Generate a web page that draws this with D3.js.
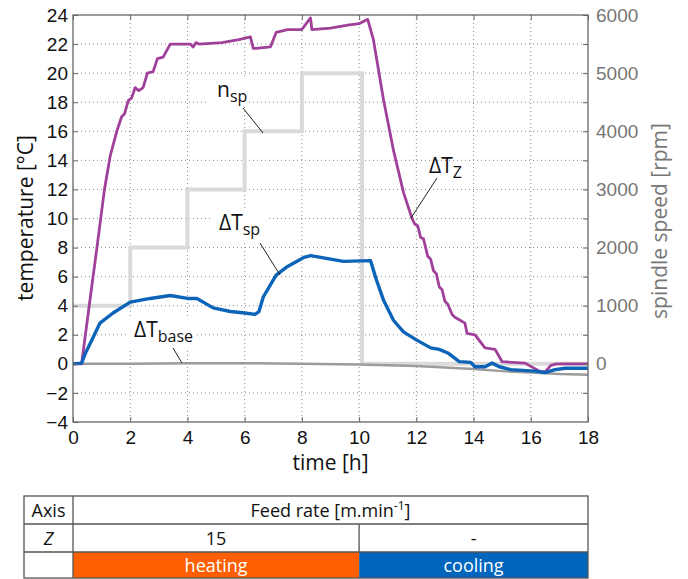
<!DOCTYPE html>
<html>
<head>
<meta charset="utf-8">
<script src="https://cdn.jsdelivr.net/npm/d3@7"></script>
<style>
    body { margin: 0; background: #fff; }
    svg { font-family: "Open Sans", sans-serif; }
</style>
</head>
<body>
<div id="graph-container"></div>
<script>
// ---- data ----
const tzTime = [0, 0.3, 0.6, 0.85, 1.1, 1.3, 1.53, 1.7, 1.8, 1.93, 2.05, 2.17, 2.3, 2.45, 2.6, 2.8, 2.95, 3.15, 3.4,
    4.1, 4.2, 4.3, 4.4, 5.2, 5.8, 6.2, 6.3, 6.4, 6.9, 7.1, 7.5, 8.0, 8.3, 8.35, 9.0, 9.6, 10.0, 10.3,
    10.5, 10.85, 11.2, 11.55, 11.85, 11.95, 12.05, 12.15, 12.25, 12.4, 12.5, 12.6, 12.7, 12.8, 12.9, 13.0, 13.1,
    13.25, 13.35, 13.53, 13.7, 13.77, 14.05, 14.4, 14.75,
    15.0, 15.8, 16.3, 16.5, 16.7, 16.9, 18];
const tzValue = [0, 0, 4.5, 8.2, 12, 14.3, 16, 17, 17.2, 18.1, 18.3, 19.0, 18.8, 19.0, 20.0, 20.1, 21.0, 21.1, 22.0,
    22.0, 21.8, 22.1, 22.0, 22.1, 22.3, 22.5, 21.7, 21.7, 21.8, 22.8, 23.0, 23.0, 23.8, 23.0, 23.1, 23.3, 23.4, 23.7,
    22.3, 18.2, 14.7, 11.8, 10.0, 9.6, 9.5, 8.7, 8.6, 7.4, 7.2, 6.4, 6.2, 5.3, 5.1, 4.3, 4.1,
    3.4, 3.2, 3.0, 2.8, 2.1, 2.0, 1.1, 1.0,
    0.15, 0.05, -0.5, -0.55, -0.1, 0, 0];

const tspTime = [0, 0.3, 0.45, 0.6, 0.94, 1.4, 2.0, 2.7, 3.4, 4.0, 4.33, 4.9, 5.5, 6.0, 6.36, 6.5, 6.65, 7.1, 7.5,
    8.05, 8.3, 9.0, 9.45, 10.4, 10.6, 10.85, 11.2, 11.55, 12.0, 12.5, 12.8, 13.1, 13.5, 13.9, 14.05, 14.4,
    14.65, 14.9, 15.3, 16.15, 16.5, 16.85, 17.2, 18];
const tspValue = [0, 0.05, 0.8, 1.4, 2.8, 3.5, 4.25, 4.5, 4.7, 4.5, 4.5, 3.85, 3.6, 3.5, 3.4, 3.6, 4.6, 6.1, 6.7,
    7.3, 7.45, 7.2, 7.05, 7.1, 5.8, 4.4, 3.0, 2.2, 1.65, 1.1, 1.0, 0.75, 0.15, 0.1, -0.2, -0.2,
    0.05, -0.2, -0.4, -0.5, -0.6, -0.4, -0.3, -0.3];

const baseTime = [0, 2, 4, 6, 8, 10, 11, 12, 13, 14, 15, 16, 17, 18];
const baseValue = [0, 0, 0.05, 0.05, 0, -0.05, -0.1, -0.15, -0.25, -0.35, -0.5, -0.6, -0.7, -0.75];

const nspTime = [0, 2, 4, 6, 8, 10.1, 18];
const nspValue = [1000, 2000, 3000, 4000, 5000, 0, 0];

const xTicks = [0, 2, 4, 6, 8, 10, 12, 14, 16, 18];
const yTicks = [-4, -2, 0, 2, 4, 6, 8, 10, 12, 14, 16, 18, 20, 22, 24];
const rpmTicks = [-500, 0, 500, 1000, 1500, 2000, 2500, 3000, 3500, 4000, 4500, 5000, 5500, 6000];

// table
const phaseNames = ['heating', 'cooling'];
const phaseBounds = [0, 10, 18];
const feedRates = ['15', '-'];

const margin = { top: 15, left: 73, right: 100, bottom: 157 };
const WIDTH = 688, HEIGHT = 579;
const width = WIDTH - margin.left - margin.right,
    height = HEIGHT - margin.top - margin.bottom;

const purple = '#A0409A', blue = '#0B64B8', baseGrey = '#9c9c9c', nspGrey = '#dadada';

const svg = d3.select('#graph-container').append('svg')
    .attr('width', WIDTH)
    .attr('height', HEIGHT);

const g = svg.append('g')
    .attr('transform', `translate(${margin.left} ${margin.top})`);

const x = d3.scaleLinear().domain([0, 18]).range([0, width]);
const y = d3.scaleLinear().domain([-4, 24]).range([height, 0]);
const yR = d3.scaleLinear().domain([-1000, 6000]).range([height, 0]);

// grid
g.append('g').selectAll('line')
    .data(xTicks.slice(1, -1))
    .join('line')
    .attr('x1', (d) => x(d)).attr('x2', (d) => x(d))
    .attr('y1', 0).attr('y2', height)
    .attr('stroke', '#8a8a8a').attr('stroke-dasharray', '1,3');
g.append('g').selectAll('line')
    .data(yTicks.slice(1, -1))
    .join('line')
    .attr('y1', (d) => y(d)).attr('y2', (d) => y(d))
    .attr('x1', 0).attr('x2', width)
    .attr('stroke', '#8a8a8a').attr('stroke-dasharray', '1,3');

// lines
const lineT = (ts, vs) => d3.line()
    .x((d, i) => x(ts[i]))
    .y((d) => y(d))(vs);

g.append('path')
    .attr('d', d3.line().curve(d3.curveStepAfter)
        .x((d, i) => x(nspTime[i]))
        .y((d) => yR(d))(nspValue))
    .attr('fill', 'none').attr('stroke', nspGrey).attr('stroke-width', 4);

g.append('path')
    .attr('d', lineT(baseTime, baseValue))
    .attr('fill', 'none').attr('stroke', baseGrey).attr('stroke-width', 2.5);

g.append('path')
    .attr('d', lineT(tzTime, tzValue))
    .attr('fill', 'none').attr('stroke', purple).attr('stroke-width', 2.8)
    .attr('stroke-linejoin', 'round');

g.append('path')
    .attr('d', lineT(tspTime, tspValue))
    .attr('fill', 'none').attr('stroke', blue).attr('stroke-width', 3.4)
    .attr('stroke-linejoin', 'round');

// frame + axes
g.append('rect')
    .attr('width', width).attr('height', height)
    .attr('fill', 'none').attr('stroke', '#666').attr('stroke-width', 1.3);

const styleAxis = (sel, color) => {
    sel.select('.domain').remove();
    sel.selectAll('line').attr('stroke', '#666');
    sel.selectAll('text').attr('fill', color).style('font-size', '19px');
};

g.append('g')
    .call(d3.axisLeft(y).tickValues(yTicks).tickSize(-5).tickPadding(5))
    .call(styleAxis, '#111');

g.append('g')
    .attr('transform', `translate(0, ${height})`)
    .call(d3.axisBottom(x).tickValues(xTicks).tickSize(-5).tickPadding(9))
    .call(styleAxis, '#111');

g.append('g')
    .call(d3.axisTop(x).tickValues(xTicks).tickSize(-5).tickFormat(''))
    .call(styleAxis, '#111');

g.append('g')
    .attr('transform', `translate(${width}, 0)`)
    .call(d3.axisRight(yR).tickValues(rpmTicks).tickSize(-5).tickPadding(8)
        .tickFormat((d) => (d % 1000 === 0 ? d : '')))
    .call(styleAxis, '#777');

// axis titles
svg.append('text')
    .attr('transform', `translate(33, 218) rotate(-90)`)
    .attr('text-anchor', 'middle')
    .style('font-size', '21px').attr('fill', '#111')
    .text('temperature [°C]');

svg.append('text')
    .attr('transform', `translate(667, 221) rotate(-90)`)
    .attr('text-anchor', 'middle')
    .style('font-size', '21px').attr('fill', '#777')
    .text('spindle speed [rpm]');

svg.append('text')
    .attr('x', margin.left + width / 2).attr('y', 470)
    .attr('text-anchor', 'middle')
    .style('font-size', '21px').attr('fill', '#111')
    .text('time [h]');

// annotations
const annotations = [
    { main: 'n', sub: 'sp', tx: 217, ty: 97, line: [243, 108, 263, 133], box: [207, 78, 42, 27] },
    { main: 'ΔT', sub: 'Z', tx: 429, ty: 173, line: [437, 178, 411, 218], box: null },
    { main: 'ΔT', sub: 'sp', tx: 219, ty: 230, line: [260, 243, 280, 275], box: [213, 208, 55, 32] },
    { main: 'ΔT', sub: 'base', tx: 134, ty: 337, line: [173, 348, 182, 363], box: [128, 318, 68, 30] },
];

annotations.forEach((a) => {
    if (a.box) {
        svg.append('rect')
            .attr('x', a.box[0]).attr('y', a.box[1])
            .attr('width', a.box[2]).attr('height', a.box[3])
            .attr('fill', '#fff');
    }
    svg.append('line')
        .attr('x1', a.line[0]).attr('y1', a.line[1])
        .attr('x2', a.line[2]).attr('y2', a.line[3])
        .attr('stroke', '#222').attr('stroke-width', 1);
    const t = svg.append('text')
        .attr('x', a.tx).attr('y', a.ty)
        .attr('fill', '#111')
        .style('font-size', '21px');
    t.append('tspan').text(a.main);
    t.append('tspan').attr('dy', 5).style('font-size', '16px').text(a.sub);
});

// table under the chart
const tbl = svg.append('g');
const tLeft = 24, tTop = 496, rowH = [28, 28, 26];
const rowY = [tTop, tTop + rowH[0], tTop + rowH[0] + rowH[1], tTop + rowH[0] + rowH[1] + rowH[2]];
const colX = margin.left;
const right = margin.left + width;

phaseNames.forEach((p, i) => {
    tbl.append('rect')
        .attr('x', margin.left + x(phaseBounds[i])).attr('y', rowY[2])
        .attr('width', x(phaseBounds[i + 1]) - x(phaseBounds[i])).attr('height', rowH[2])
        .attr('fill', i === 0 ? '#FF5F00' : '#0066BD');
    tbl.append('text')
        .attr('x', margin.left + x((phaseBounds[i] + phaseBounds[i + 1]) / 2))
        .attr('y', rowY[2] + 20)
        .attr('text-anchor', 'middle').attr('fill', '#fff')
        .style('font-size', '18px').text(p);
    tbl.append('text')
        .attr('x', margin.left + x((phaseBounds[i] + phaseBounds[i + 1]) / 2))
        .attr('y', rowY[1] + 21)
        .attr('text-anchor', 'middle').attr('fill', '#111')
        .style('font-size', '18px').text(feedRates[i]);
});

// grid lines of the table
tbl.append('rect')
    .attr('x', tLeft).attr('y', tTop)
    .attr('width', right - tLeft).attr('height', rowY[3] - tTop)
    .attr('fill', 'none').attr('stroke', '#555').attr('stroke-width', 1.3);
[rowY[1], rowY[2]].forEach((yy) => {
    tbl.append('line').attr('x1', tLeft).attr('x2', right)
        .attr('y1', yy).attr('y2', yy)
        .attr('stroke', '#555').attr('stroke-width', 1.3);
});
tbl.append('line').attr('x1', colX).attr('x2', colX)
    .attr('y1', tTop).attr('y2', rowY[3])
    .attr('stroke', '#555').attr('stroke-width', 1.3);
tbl.append('line')
    .attr('x1', margin.left + x(phaseBounds[1])).attr('x2', margin.left + x(phaseBounds[1]))
    .attr('y1', rowY[1]).attr('y2', rowY[2])
    .attr('stroke', '#555').attr('stroke-width', 1.3);

tbl.append('text')
    .attr('x', (tLeft + colX) / 2).attr('y', rowY[0] + 21)
    .attr('text-anchor', 'middle').attr('fill', '#111')
    .style('font-size', '18px').text('Axis');
tbl.append('text')
    .attr('x', (tLeft + colX) / 2).attr('y', rowY[1] + 21)
    .attr('text-anchor', 'middle').attr('fill', '#111')
    .style('font-size', '18px').style('font-style', 'italic').text('Z');

const fr = tbl.append('text')
    .attr('x', margin.left + width / 2).attr('y', rowY[0] + 21)
    .attr('text-anchor', 'middle').attr('fill', '#111')
    .style('font-size', '18px');
fr.append('tspan').text('Feed rate [m.min');
fr.append('tspan').attr('dy', -7).style('font-size', '12px').text('-1');
fr.append('tspan').attr('dy', 7).text(']');
</script>
</body>
</html>
